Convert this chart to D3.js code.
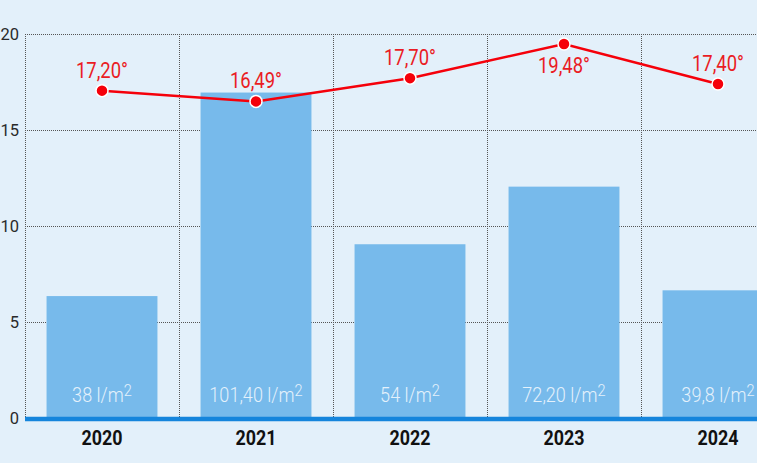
<!DOCTYPE html>
<html><head><meta charset="utf-8">
<script src="https://cdn.jsdelivr.net/npm/d3@7"></script>
<style>
html,body{margin:0;padding:0;background:#e3f0fa;}
svg{display:block;}
</style></head>
<body><svg id="c" width="757" height="463"></svg>
<script>
const years = ["2020","2021","2022","2023","2024"];
const rainBars = [6.35, 16.95, 9.05, 12.05, 6.65];
const rainLabels = ["38 l/m", "101,40 l/m", "54 l/m", "72,20 l/m", "39,8 l/m"];
const tempValues = [17.05, 16.49, 17.70, 19.48, 17.40];
const tempLabels = ["17,20°", "16,49°", "17,70°", "19,48°", "17,40°"];
const yTicks = [0, 5, 10, 15, 20];

(function () {
const svg = d3.select("#c");
const mLeft = 25, mTop = 34, mBottom = 418, stepPx = 154;
const x = d3.scaleBand().domain(years).range([mLeft, mLeft + stepPx * years.length])
  .paddingInner(0.28).paddingOuter(0.14);
const y = d3.scaleLinear().domain([0, 20]).range([mBottom, mTop]);
const st = x.step();
const mRight = mLeft + st * years.length;

// horizontal gridlines
svg.append("g").selectAll("line").data(yTicks.filter(d => d > 0)).join("line")
  .attr("x1", mLeft).attr("x2", mRight)
  .attr("y1", d => y(d) + 0.5).attr("y2", d => y(d) + 0.5)
  .attr("stroke", "#555").attr("stroke-width", 1).attr("stroke-dasharray", "1,1");
// vertical gridlines
svg.append("g").selectAll("line").data(d3.range(years.length + 1)).join("line")
  .attr("x1", i => mLeft + i * st + 0.5).attr("x2", i => mLeft + i * st + 0.5)
  .attr("y1", mTop).attr("y2", mBottom)
  .attr("stroke", "#555").attr("stroke-width", 1).attr("stroke-dasharray", "1,1");

// y tick labels
const yAxis = d3.axisLeft(y).tickValues(yTicks).tickSize(0).tickPadding(6);
const ya = svg.append("g").attr("transform", `translate(${mLeft},0)`).call(yAxis);
ya.select(".domain").remove();
ya.selectAll("text").attr("font-family", "Roboto").attr("font-size", 16.5).attr("fill", "#2a2a2a");

// bars
svg.append("g").selectAll("rect").data(years).join("rect")
  .attr("x", d => x(d)).attr("width", x.bandwidth())
  .attr("y", (d, i) => y(rainBars[i])).attr("height", (d, i) => mBottom - y(rainBars[i]))
  .attr("fill", "#77baeb");

const cx = d => x(d) + x.bandwidth() / 2;

// bar labels (condensed look via horizontal scale)
const bl = svg.append("g").selectAll("text").data(years).join("text")
  .attr("transform", d => `translate(${cx(d)},402) scale(0.86,1)`)
  .attr("text-anchor", "middle").attr("font-family", "Roboto").attr("font-weight", 300)
  .attr("font-size", 21).attr("fill", "#e4f1fb");
bl.append("tspan").text((d, i) => rainLabels[i]);
bl.append("tspan").attr("dy", -6).attr("font-size", 17).text("2");

// axis baseline
svg.append("line").attr("x1", mLeft).attr("x2", mRight).attr("y1", 419).attr("y2", 419)
  .attr("stroke", "#1585dc").attr("stroke-width", 4.5);

// x labels
const xAxis = d3.axisBottom(x).tickSize(0).tickPadding(0);
const xa = svg.append("g").attr("transform", `translate(0,445)`).call(xAxis);
xa.select(".domain").remove();
xa.selectAll("text").attr("dy", 0).attr("font-family", "Roboto").attr("font-weight", 700)
  .attr("font-size", 21).attr("fill", "#111")
  .attr("textLength", 41).attr("lengthAdjust", "spacingAndGlyphs");

// line
const line = d3.line().x(d => cx(d)).y((d, i) => y(tempValues[i]));
svg.append("path").datum(years).attr("d", line)
  .attr("fill", "none").attr("stroke", "#f5000a").attr("stroke-width", 2.5);
svg.append("g").selectAll("circle").data(years).join("circle")
  .attr("cx", cx).attr("cy", (d, i) => y(tempValues[i])).attr("r", 6)
  .attr("fill", "#f5000a").attr("stroke", "#fff").attr("stroke-width", 1.5);

const maxT = d3.max(tempValues);
svg.append("g").selectAll("text").data(years).join("text")
  .attr("x", cx)
  .attr("y", (d, i) => tempValues[i] === maxT ? y(tempValues[i]) + 29 : y(tempValues[i]) - 13)
  .attr("text-anchor", "middle").attr("font-family", "Roboto").attr("font-size", 22)
  .attr("fill", "#ea1c24")
  .attr("textLength", 52).attr("lengthAdjust", "spacingAndGlyphs")
  .text((d, i) => tempLabels[i]);
})();
</script></body></html>
